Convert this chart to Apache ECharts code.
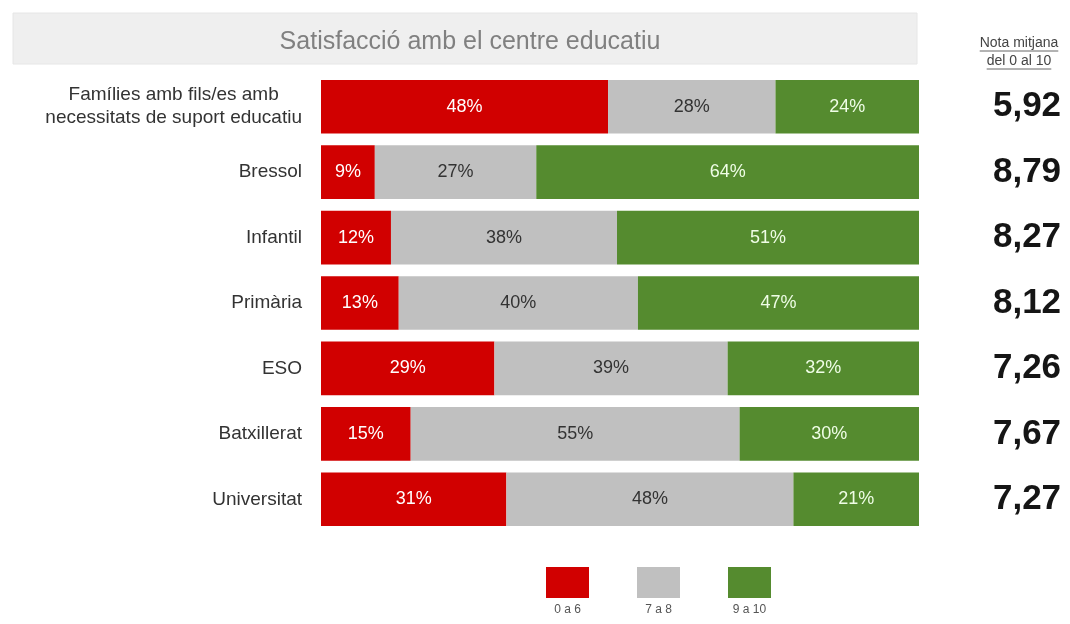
<!DOCTYPE html>
<html>
<head>
<meta charset="utf-8">
<title>Satisfacció amb el centre educatiu</title>
<script src="https://cdn.jsdelivr.net/npm/echarts@6/dist/echarts.min.js"></script>
<style>
  html, body { margin: 0; padding: 0; background: #fff; }
  #chart { width: 1070px; height: 624px; }
</style>
</head>
<body>
<div id="chart"></div>
<script>
// categories (top to bottom)
const categories = [
  'Famílies amb fils/es amb\nnecessitats de suport educatiu',
  'Bressol',
  'Infantil',
  'Primària',
  'ESO',
  'Batxillerat',
  'Universitat'
];

// % of families by score band
const low = [48, 9, 11.7, 13, 29, 15, 31];      // 0 a 6
const mid = [28, 27, 37.8, 40, 39, 55, 48];     // 7 a 8
const high = [24, 64, 50.5, 47, 32, 30, 21];    // 9 a 10

// mean score 0-10
const means = ['5,92', '8,79', '8,27', '8,12', '7,26', '7,67', '7,27'];

const bandNames = ['0 a 6', '7 a 8', '9 a 10'];
const colors = ['#d10000', '#c0c0c0', '#558b2f'];
const labelColors = ['#ffffff', '#333333', '#effde6'];

const FONT = '"Liberation Sans", Arial, sans-serif';

const chart = echarts.init(document.getElementById('chart'));

// measure header text to draw underlines
const ctx = document.createElement('canvas').getContext('2d');
ctx.font = '14px ' + FONT;
const headLines = ['Nota mitjana', 'del 0 al 10'];
const headY = [44, 62];
const headX = 1019;
const headGraphics = [];
headLines.forEach((t, i) => {
  const w = ctx.measureText(t).width;
  headGraphics.push({
    type: 'text', left: headX - w / 2, top: headY[i] - 8,
    style: { text: t, font: '14px ' + FONT, fill: '#444' }
  });
  headGraphics.push({
    type: 'line',
    shape: { x1: headX - w / 2, y1: headY[i] + 7, x2: headX + w / 2, y2: headY[i] + 7 },
    style: { stroke: '#666', lineWidth: 1 }
  });
});

const dataSets = [low, mid, high];
const series = dataSets.map((d, k) => ({
  name: bandNames[k],
  type: 'bar',
  stack: 'total',
  data: d,
  barCategoryGap: '18%',
  itemStyle: { color: colors[k] },
  label: {
    show: true,
    position: 'inside',
    formatter: p => Math.round(p.value) + '%',
    color: labelColors[k],
    fontSize: 18,
    fontFamily: FONT
  },
  emphasis: { disabled: true }
}));

const legendKeys = { '0 a 6': 'r', '7 a 8': 'g', '9 a 10': 'v' };

const option = {
  animation: false,
  backgroundColor: '#ffffff',
  title: {
    text: 'Satisfacció amb el centre educatiu',
    left: 465,
    top: 25,
    textAlign: 'center',
    textStyle: { fontSize: 25, fontWeight: 'normal', color: '#808080', fontFamily: FONT }
  },
  graphic: [
    {
      type: 'rect', z: -1,
      shape: { x: 13, y: 13, width: 904, height: 51 },
      style: { fill: '#efefef', stroke: '#e6e6e6', lineWidth: 1 }
    },
    ...headGraphics
  ],
  legend: {
    data: bandNames,
    left: 541,
    top: 567,
    padding: 0,
    icon: 'rect',
    itemWidth: 0,
    itemHeight: 0,
    itemGap: 43,
    selectedMode: false,
    formatter: name => '{' + legendKeys[name] + '|}\n{t|' + name + '}',
    textStyle: {
      rich: {
        r: { width: 43, height: 31, backgroundColor: colors[0] },
        g: { width: 43, height: 31, backgroundColor: colors[1] },
        v: { width: 43, height: 31, backgroundColor: colors[2] },
        t: { fontSize: 12, color: '#555', align: 'center', padding: [6, 0, 0, 0], fontFamily: FONT }
      }
    }
  },
  grid: { left: 321, right: 151, top: 74, height: 458 },
  xAxis: { type: 'value', min: 0, max: 100, show: false },
  yAxis: [
    {
      type: 'category',
      data: categories,
      inverse: true,
      axisLine: { show: false },
      axisTick: { show: false },
      axisLabel: {
        margin: 19,
        formatter: v => v.split('\n').map(s => '{c|' + s + '}').join('\n'),
        rich: {
          c: { align: 'center', fontSize: 19, lineHeight: 23, color: '#333', fontFamily: FONT }
        }
      }
    },
    {
      type: 'category',
      data: categories,
      inverse: true,
      position: 'right',
      axisLine: { show: false },
      axisTick: { show: false },
      axisLabel: {
        margin: 108,
        align: 'center',
        formatter: (v, i) => means[i],
        fontSize: 35,
        fontWeight: 'bold',
        color: '#151515',
        fontFamily: FONT
      }
    }
  ],
  series: series
};

chart.setOption(option);
</script>
</body>
</html>
